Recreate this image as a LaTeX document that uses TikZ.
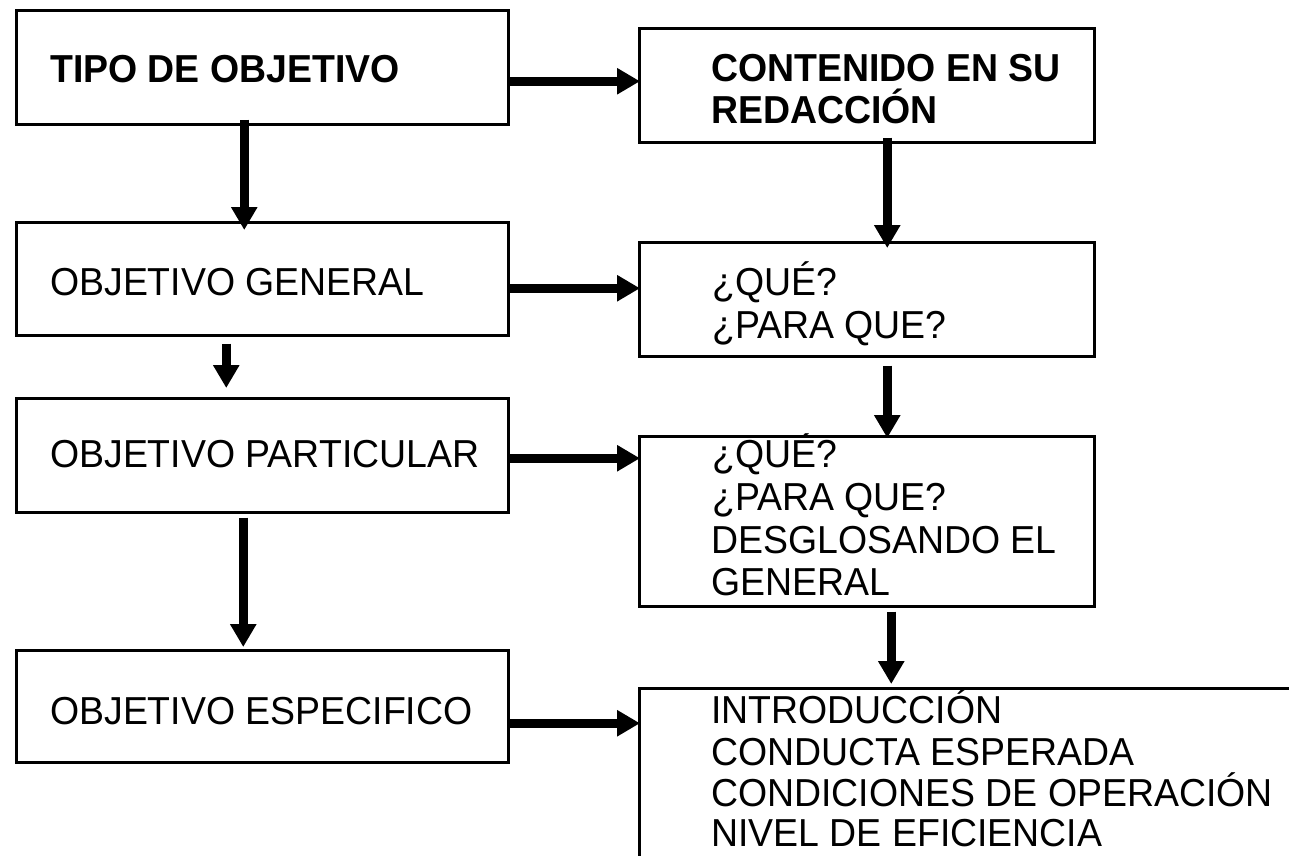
\documentclass[tikz,border=0pt]{standalone}
\usepackage{fontspec}
\setmainfont[FakeStretch=0.96]{Liberation Sans}
\usetikzlibrary{arrows.meta}
\begin{document}
\begin{tikzpicture}[x=1pt,y=-1pt,
  box/.style={draw, line width=2.5pt, inner sep=0pt, anchor=north west, rectangle},
  lbox/.style={box, minimum width=492pt},
  rbox/.style={box, minimum width=455pt},
  txt/.style={anchor=base west, inner sep=0pt, font=\fontsize{39}{43}\selectfont},
  btxt/.style={txt, font=\fontsize{39}{43}\selectfont\bfseries},
  arr/.style={line width=9.5pt, -{Triangle[length=23pt,width=25pt]}}
]
\clip (0,0) rectangle (1289,855);
\fill[white] (0,0) rectangle (1289,855);

% left column boxes
\node[lbox, minimum height=114pt] (L1) at (15,9) {};
\node[lbox, minimum height=113pt] (L2) at (15,221) {};
\node[lbox, minimum height=114pt] (L3) at (15,397) {};
\node[lbox, minimum height=112pt] (L4) at (15,649) {};

% right column boxes
\node[rbox, minimum height=114pt] (R1) at (638,27) {};
\node[rbox, minimum height=114pt] (R2) at (638,241) {};
\node[rbox, minimum height=170pt] (R3) at (638,435) {};
\node[box, minimum width=700pt, minimum height=300pt] (R4) at (638,687) {};

% texts
\node[btxt] (tL1) at (50,82) {TIPO DE OBJETIVO};
\node[txt] (tL2) at (50,295) {OBJETIVO GENERAL};
\node[txt] (tL3) at (50,467) {OBJETIVO PARTICULAR};
\node[txt] (tL4) at (50,724) {OBJETIVO ESPECIFICO};

\node[btxt] (tR1a) at (711,81) {CONTENIDO EN SU};
\node[btxt] (tR1b) at (711,123) {REDACCIÓN};

\node[txt] (tR2a) at (712,295) {¿QUÉ?};
\node[txt] (tR2b) at (712,338) {¿PARA QUE?};

\node[txt] (tR3a) at (712,467) {¿QUÉ?};
\node[txt] (tR3b) at (712,510) {¿PARA QUE?};
\node[txt] (tR3c) at (711,553) {DESGLOSANDO EL};
\node[txt] (tR3d) at (711,595) {GENERAL};

\node[txt] (tR4a) at (711,723) {INTRODUCCIÓN};
\node[txt] (tR4b) at (711,765) {CONDUCTA ESPERADA};
\node[txt] (tR4c) at (711,806) {CONDICIONES DE OPERACIÓN};
\node[txt] (tR4d) at (711,846) {NIVEL DE EFICIENCIA};

% horizontal arrows
\draw[arr, shorten >=-2pt] ([yshift=-14pt]L1.east) -- ([yshift=-14pt]L1.east -| R1.west);
\draw[arr, shorten >=-2pt] ([yshift=-9.5pt]L2.east) -- ([yshift=-9.5pt]L2.east -| R2.west);
\draw[arr, shorten >=-2pt] ([yshift=-3pt]L3.east) -- ([yshift=-3pt]L3.east -| R3.west);
\draw[arr, shorten >=-2pt] ([yshift=-17pt]L4.east) -- ([yshift=-17pt]L4.east -| R4.west);

% vertical arrows, left column
\draw[arr, shorten <=-6pt, shorten >=-9pt] ([xshift=-18pt]L1.south) -- ([xshift=-18pt]L1.south |- L2.north);
\draw[arr, shorten <=7pt, shorten >=9pt] ([xshift=-36pt]L2.south) -- ([xshift=-36pt]L2.south |- L3.north);
\draw[arr, shorten <=4pt, shorten >=2pt] ([xshift=-19pt]L3.south) -- ([xshift=-19pt]L3.south |- L4.north);

% vertical arrows, right column
\draw[arr, shorten <=-6pt, shorten >=-7pt] ([xshift=20.5pt]R1.south) -- ([xshift=20.5pt]R1.south |- R2.north);
\draw[arr, shorten <=8pt, shorten >=-3pt] ([xshift=20.5pt]R2.south) -- ([xshift=20.5pt]R2.south |- R3.north);
\draw[arr, shorten <=4pt, shorten >=3pt] ([xshift=24.5pt]R3.south) -- ([xshift=24.5pt]R3.south |- R4.north);
\end{tikzpicture}
\end{document}
